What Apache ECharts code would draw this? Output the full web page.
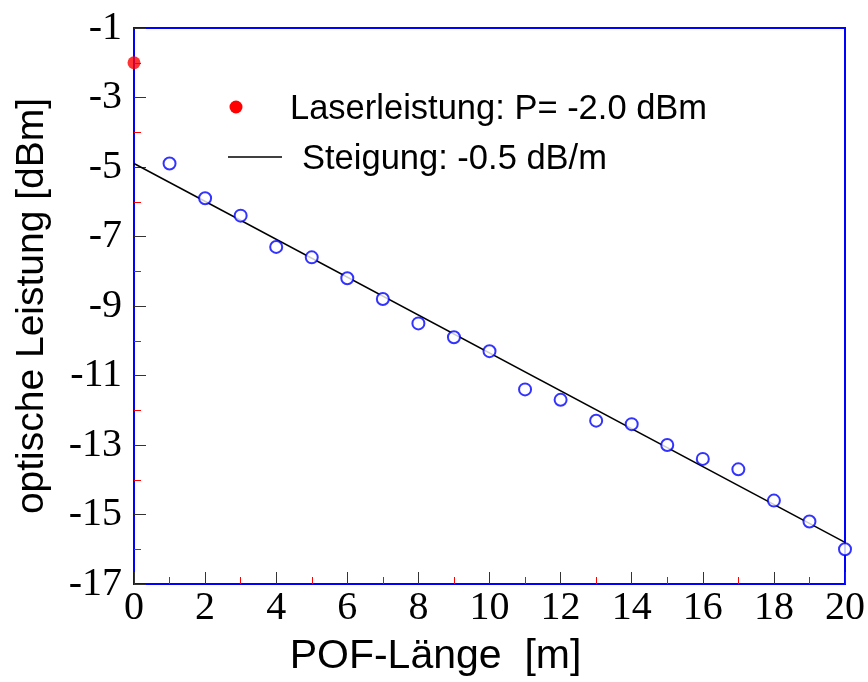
<!DOCTYPE html>
<html>
<head>
<meta charset="utf-8">
<script src="https://cdn.jsdelivr.net/npm/echarts@6/dist/echarts.min.js"></script>
<style>
  html, body { margin: 0; padding: 0; background: #fff; }
  #chart { width: 868px; height: 682px; }
</style>
</head>
<body>
<div id="chart"></div>
<script>
// Fibre length [m] and measured optical power [dBm]
const lengths = [1, 2, 3, 4, 5, 6, 7, 8, 9, 10, 11, 12, 13, 14, 15, 16, 17, 18, 19, 20];
const power = [-4.9, -5.9, -6.4, -7.3, -7.6, -8.2, -8.8, -9.5, -9.9, -10.3,
               -11.4, -11.7, -12.3, -12.4, -13.0, -13.4, -13.7, -14.6, -15.2, -16.0];
// Laser output at the fibre input
const laserPoint = [[0, -2.0]];
// Linear fit endpoints
const fitLine = [[0, -4.9], [20, -15.8]];

const legendLaser = 'Laserleistung: P= -2.0 dBm';
const legendFit = 'Steigung: -0.5 dB/m';
const xTitle = 'POF-Länge  [m]';
const yTitle = 'optische Leistung [dBm]';

const BLUE = '#0000ff';
const sans = '"Liberation Sans", Arial, sans-serif';
const serif = '"Liberation Serif", "Times New Roman", serif';

const chart = echarts.init(document.getElementById('chart'));

// Major ticks dark and pointing into the plot, minor ticks red
const tickStyle = { show: true, inside: true, length: 12, lineStyle: { color: '#333', width: 1 } };
const minorStyle = { show: true, splitNumber: 2, length: 7, lineStyle: { color: '#ff0000', width: 1 } };

chart.setOption({
  animation: false,
  backgroundColor: '#fff',
  grid: {
    left: 134, top: 28, right: 22, bottom: 97,
    show: true, borderColor: BLUE, borderWidth: 2, backgroundColor: 'transparent'
  },
  xAxis: {
    type: 'value',
    min: 0, max: 20, interval: 2,
    axisLine: { show: true, onZero: false, lineStyle: { color: BLUE, width: 2 } },
    axisTick: tickStyle,
    minorTick: minorStyle,
    splitLine: { show: false },
    axisLabel: { color: '#000', fontFamily: serif, fontSize: 40, margin: 4 },
    name: xTitle,
    nameLocation: 'middle',
    nameGap: 52,
    nameTextStyle: { color: '#000', fontFamily: sans, fontSize: 41, padding: [0, 108, 0, 0] }
  },
  yAxis: {
    type: 'value',
    min: -17, max: -1, interval: 2,
    axisLine: { show: true, onZero: false, lineStyle: { color: BLUE, width: 2 } },
    axisTick: tickStyle,
    minorTick: minorStyle,
    splitLine: { show: false },
    axisLabel: { color: '#000', fontFamily: serif, fontSize: 40, margin: 12 },
    name: yTitle,
    nameLocation: 'middle',
    nameGap: 82,
    nameTextStyle: { color: '#000', fontFamily: sans, fontSize: 39 }
  },
  series: [
    {
      type: 'line',
      data: fitLine,
      showSymbol: false,
      symbol: 'none',
      lineStyle: { color: '#000', width: 1.5 },
      z: 2
    },
    {
      type: 'scatter',
      data: lengths.map((x, i) => [x, power[i]]),
      symbol: 'emptyCircle',
      symbolSize: 12,
      itemStyle: { color: BLUE, borderColor: BLUE, borderWidth: 2.2 },
      clip: false,
      z: 3
    },
    {
      type: 'scatter',
      data: laserPoint,
      symbol: 'circle',
      symbolSize: 13,
      itemStyle: { color: '#ff0000' },
      clip: false,
      z: 4
    }
  ],
  graphic: [
    { type: 'circle', shape: { cx: 236, cy: 107, r: 6.5 }, style: { fill: '#ff0000' } },
    { type: 'text', left: 290, top: 92,
      style: { text: legendLaser, fill: '#000', font: '34.5px ' + sans } },
    { type: 'line', shape: { x1: 228, y1: 157, x2: 282, y2: 157 },
      style: { stroke: '#000', lineWidth: 1.5 } },
    { type: 'text', left: 302, top: 142,
      style: { text: legendFit, fill: '#000', font: '34.5px ' + sans } }
  ]
});
</script>
</body>
</html>
